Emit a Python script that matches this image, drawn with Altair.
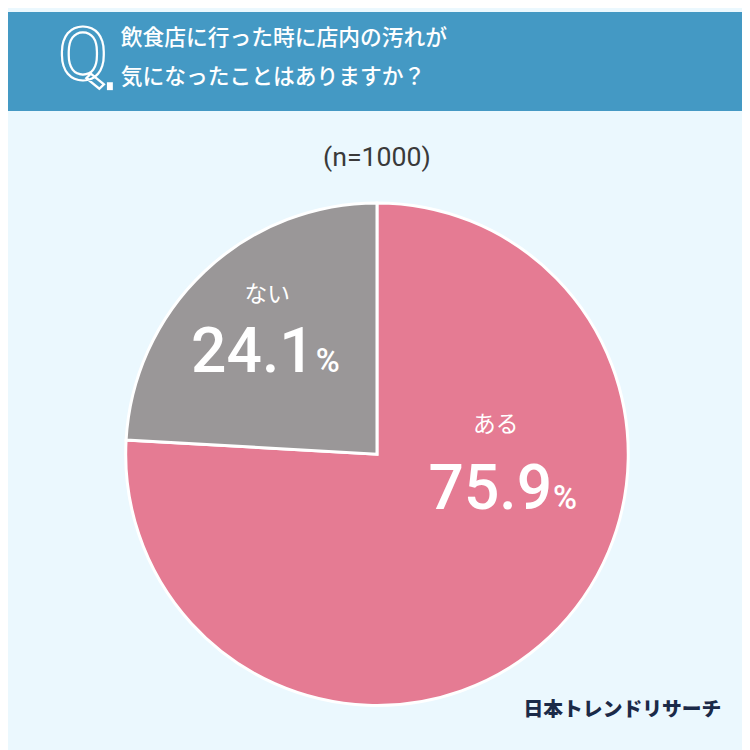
import altair as alt
import pandas as pd

# ---- data ----
categories = ["ある", "ない"]
values = [75.9, 24.1]
colors = ["#e57b93", "#9a9798"]
title_lines = ["飲食店に行った時に店内の汚れが", "気になったことはありますか？"]
sample_note = "(n=1000)"
brand = "日本トレンドリサーチ"

W, H = 742, 742
BG = "#ebf8fe"
HEADER = "#4499c4"
CX, CY, R = 373, 447, 254

pie_df = pd.DataFrame({"category": categories, "value": values, "order": list(range(len(categories)))})

base_dummy = pd.DataFrame({"d": [0]})

header = alt.Chart(base_dummy).mark_rect(color=HEADER).encode(
    x=alt.value(0), x2=alt.value(W), y=alt.value(0), y2=alt.value(100)
)

q_icon = alt.Chart(base_dummy).mark_text(
    text="Q", font="Roboto", fontSize=74, fontWeight=400, fill=HEADER, stroke="white",
    strokeWidth=2.2, align="center", baseline="alphabetic"
).encode(x=alt.value(76), y=alt.value(69))

q_dot = alt.Chart(base_dummy).mark_rect(color="white").encode(
    x=alt.value(100), x2=alt.value(106), y=alt.value(71), y2=alt.value(79)
)

title1 = alt.Chart(pd.DataFrame({"t": [title_lines[0]]})).mark_text(
    font="Noto Sans CJK JP", fontSize=22, fontWeight=500, color="white", align="left", baseline="middle"
).encode(text="t:N", x=alt.value(114), y=alt.value(26))
title2 = alt.Chart(pd.DataFrame({"t": [title_lines[1]]})).mark_text(
    font="Noto Sans CJK JP", fontSize=22, fontWeight=500, color="white", align="left", baseline="middle"
).encode(text="t:N", x=alt.value(114), y=alt.value(66))

note = alt.Chart(pd.DataFrame({"t": [sample_note]})).mark_text(
    font="Roboto", fontSize=27, color="#3a3a3a", align="center", baseline="middle"
).encode(text="t:N", x=alt.value(373), y=alt.value(148))

pie = alt.Chart(pie_df).mark_arc(outerRadius=R, stroke="white", strokeWidth=3).encode(
    theta=alt.Theta("value:Q", stack=True),
    order=alt.Order("order:Q", sort="ascending"),
    color=alt.Color("category:N", scale=alt.Scale(domain=categories, range=colors), legend=None),
    x=alt.value(CX), y=alt.value(CY),
)

def label_layers(idx, cat_xy, num_right, num_base):
    cat = alt.Chart(pd.DataFrame({"t": [categories[idx]]})).mark_text(
        font="Noto Sans CJK JP", fontSize=23, color="white", align="center", baseline="middle"
    ).encode(text="t:N", x=alt.value(cat_xy[0]), y=alt.value(cat_xy[1]))
    num = alt.Chart(pd.DataFrame({"t": [f"{values[idx]:.1f}"]})).mark_text(
        font="Roboto", fontSize=63, fontWeight=500, color="white", align="right", baseline="alphabetic"
    ).encode(text="t:N", x=alt.value(num_right), y=alt.value(num_base))
    pct = alt.Chart(pd.DataFrame({"t": ["%"]})).mark_text(
        font="Roboto", fontSize=33, fontWeight=500, color="white", align="left", baseline="alphabetic"
    ).encode(text="t:N", x=alt.value(num_right + 1), y=alt.value(num_base))
    return [cat, num, pct]

lab_yes = label_layers(0, (493, 418), 550, 502)
lab_no = label_layers(1, (262, 286), 310, 364)

logo = alt.Chart(pd.DataFrame({"t": [brand]})).mark_text(
    font="Noto Sans CJK JP", fontSize=20, fontWeight=900, color="#1b2a48", align="right", baseline="middle"
).encode(text="t:N", x=alt.value(721), y=alt.value(706))

chart = alt.layer(
    header, q_icon, q_dot, title1, title2, note, pie, *lab_yes, *lab_no, logo
).properties(
    width=W, height=H, background=BG, padding=0,
    autosize=alt.AutoSizeParams(type="none"),
).configure_view(stroke=None)

chart.save("out.html", embed_options={"renderer": "svg", "actions": False})
